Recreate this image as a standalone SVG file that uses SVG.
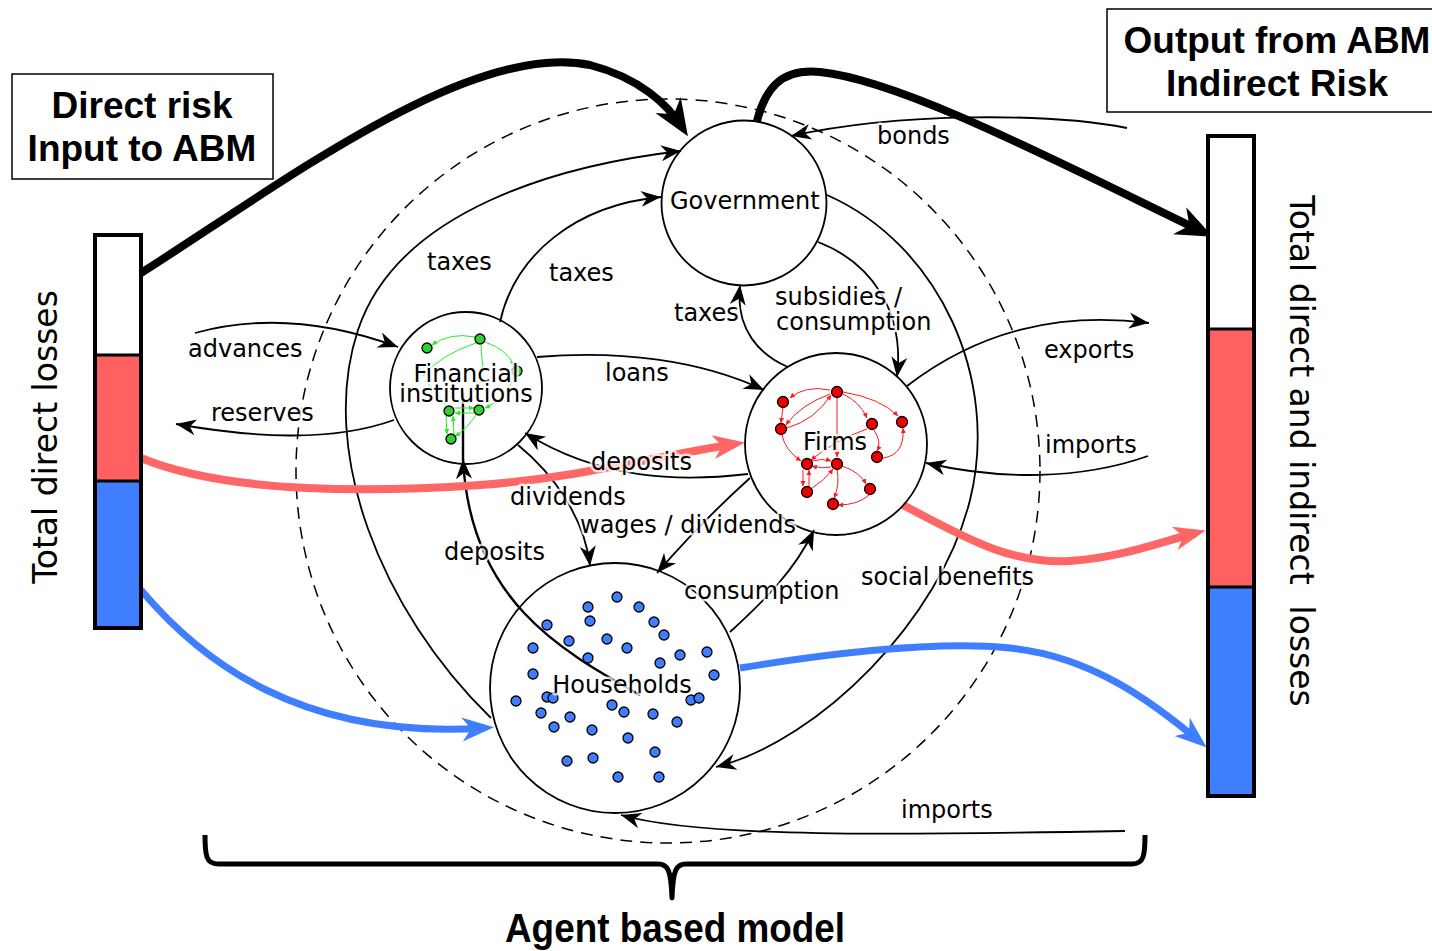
<svg xmlns="http://www.w3.org/2000/svg" width="1432" height="951" viewBox="0 0 1432 951">
<style>
.thin{fill:none;stroke:#000;stroke-width:1.8}
.node{fill:none;stroke:#000;stroke-width:1.8}
.lb{font-family:"DejaVu Sans",sans-serif;font-size:24px;fill:#000;paint-order:stroke;stroke:#fff;stroke-width:5px;stroke-opacity:0.75;stroke-linejoin:round}
.title{font-family:"Liberation Sans",Arial,sans-serif;font-size:37px;font-weight:bold;fill:#000;text-anchor:middle}
.vt{font-family:"DejaVu Sans",sans-serif;font-size:33px;fill:#000;text-anchor:middle}
.gd{fill:#2fd02f;stroke:#000;stroke-width:1.3}
.rd{fill:#ee0000;stroke:#000;stroke-width:1.3}
.bd{fill:#3f7fff;stroke:#000;stroke-width:1.3}
.ge{fill:none;stroke:#22ee22;stroke-width:1}
.re{fill:none;stroke:#ff1a1a;stroke-width:1}
</style>
<defs>
<marker id="ah" markerUnits="userSpaceOnUse" viewBox="-22 -9 24 18" refX="0" refY="0" markerWidth="24" markerHeight="18" orient="auto"><path d="M0,0 L-20,-8 L-14,0 L-20,8 Z" fill="#000"/></marker>
<marker id="ahk" markerUnits="userSpaceOnUse" viewBox="-28 -17 42 34" refX="0" refY="0" markerWidth="42" markerHeight="34" orient="auto"><path d="M11,0 L-26,-15 L-15,0 L-26,15 Z" fill="#000"/></marker>
<marker id="ahr" markerUnits="userSpaceOnUse" viewBox="-26 -16 40 32" refX="0" refY="0" markerWidth="40" markerHeight="32" orient="auto"><path d="M10,0 L-22,-12 L-13,0 L-22,12 Z" fill="#ff6666"/></marker>
<marker id="ahb" markerUnits="userSpaceOnUse" viewBox="-26 -16 40 32" refX="0" refY="0" markerWidth="40" markerHeight="32" orient="auto"><path d="M10,0 L-22,-12 L-13,0 L-22,12 Z" fill="#3f7fff"/></marker>
<marker id="sg" markerUnits="userSpaceOnUse" viewBox="-6 -3 7 6" refX="0" refY="0" markerWidth="7" markerHeight="6" orient="auto"><path d="M0,0 L-5,-2.5 L-5,2.5 Z" fill="#22ee22"/></marker>
<marker id="sr" markerUnits="userSpaceOnUse" viewBox="-6 -3 7 6" refX="0" refY="0" markerWidth="7" markerHeight="6" orient="auto"><path d="M0,0 L-5,-2.5 L-5,2.5 Z" fill="#ff1a1a"/></marker>
</defs>
<rect width="1432" height="951" fill="#fff"/>

<!-- ABM boundary -->
<circle id="abm-boundary" cx="668" cy="471" r="372" fill="none" stroke="#000" stroke-width="1.5" stroke-dasharray="12,8"/>

<g id="connectors">
  <!-- thin flows -->
  <path class="thin" marker-end="url(#ah)" d="M1127,128 C1050,113 900,112 791,136"/>
  <path class="thin" marker-end="url(#ah)" d="M491,718 C380,610 318,450 358,330 C398,210 560,165 681,151"/>
  <path class="thin" marker-end="url(#ah)" d="M500,322 C515,255 575,205 661,197"/>
  <path class="thin" marker-end="url(#ah)" d="M788,367 C760,355 735,330 740,285"/>
  <path class="thin" marker-end="url(#ah)" d="M818,242 C870,262 905,310 897,377"/>
  <path class="thin" marker-end="url(#ah)" d="M827,195 C940,245 1000,380 970,500 C940,620 820,740 716,767"/>
  <path class="thin" marker-end="url(#ah)" d="M195,333 C260,315 330,322 398,347"/>
  <path class="thin" marker-end="url(#ah)" d="M394,420 C330,443 250,437 176,424"/>
  <path class="thin" marker-end="url(#ah)" d="M537,357 C620,350 700,360 764,390"/>
  <path class="thin" marker-end="url(#ah)" d="M748,474 C680,482 600,480 525,433"/>
  <path class="thin" marker-end="url(#ah)" d="M518,445 C555,475 585,520 590,566"/>
  <path class="thin" marker-end="url(#ah)" d="M750,478 C720,505 690,535 657,573"/>
  <path class="thin" marker-end="url(#ah)" d="M730,632 C765,600 795,570 814,530"/>
  <path class="thin" style="stroke-width:2.4" marker-end="url(#ah)" d="M640,695 C560,650 470,600 463,459"/>
  <path class="thin" style="stroke-width:2.4" d="M463,460 L463,393"/>
  <path class="thin" marker-end="url(#ah)" d="M907,386 C980,330 1060,312 1149,323"/>
  <path class="thin" marker-end="url(#ah)" d="M1148,456 C1080,480 1000,480 926,463"/>
  <path class="thin" marker-end="url(#ah)" d="M1125,831 C900,835 700,838 621,815"/>

  <!-- thick risk flows -->
  <path fill="none" stroke="#000" stroke-width="8" marker-end="url(#ahk)" d="M141,273 C280,185 470,40 590,65 C640,78 668,105 682,127"/>
  <path fill="none" stroke="#000" stroke-width="8" marker-end="url(#ahk)" d="M757,121 C765,90 780,68 820,72 C900,80 1050,158 1203,232"/>
  <path fill="none" stroke="#ff6666" stroke-width="8" marker-end="url(#ahr)" d="M141,458 C230,495 380,492 480,485 C580,478 660,455 735,444"/>
  <path fill="none" stroke="#ff6666" stroke-width="8" marker-end="url(#ahr)" d="M903,505 C960,535 1010,565 1070,561 C1120,558 1160,542 1196,533"/>
  <path fill="none" stroke="#3f7fff" stroke-width="7" marker-end="url(#ahb)" d="M141,590 C200,660 300,740 484,728"/>
  <path fill="none" stroke="#3f7fff" stroke-width="7" marker-end="url(#ahb)" d="M740,668 C820,655 930,640 1010,648 C1090,656 1150,700 1199,741"/>

  <!-- brace -->
  <path fill="none" stroke="#000" stroke-width="5" stroke-linejoin="round" d="M205,835 C205,855 206,864 218,864 L658,864 C668,864 671,870 672,898 C673,870 676,864 686,864 L1132,864 C1144,864 1145,855 1145,835"/>
</g>

<g id="government">
  <circle class="node" cx="744" cy="203" r="82.5"/>
  <text class="lb" x="670" y="209">Government</text>
</g>

<g id="financial-institutions">
  <circle class="node" cx="466" cy="388" r="76"/>
  <path class="ge" marker-end="url(#sg)" d="M475,337 Q450,332 432,345"/>
  <path class="ge" marker-end="url(#sg)" d="M476,343 Q440,355 423,376"/>
  <path class="ge" marker-end="url(#sg)" d="M485,342 Q508,350 514,366"/>
  <path class="ge" marker-end="url(#sg)" d="M481,345 L483,372"/>
  <path class="ge" marker-end="url(#sg)" d="M514,377 Q505,400 485,408"/>
  <path class="ge" marker-end="url(#sg)" d="M425,380 Q440,398 446,405"/>
  <path class="ge" marker-end="url(#sg)" d="M455,408 L474,408"/>
  <path class="ge" marker-end="url(#sg)" d="M474,413 L455,413"/>
  <path class="ge" marker-end="url(#sg)" d="M446,416 L447,434"/>
  <path class="ge" marker-end="url(#sg)" d="M454,434 L453,416"/>
  <path class="ge" marker-end="url(#sg)" d="M476,415 Q466,430 455,436"/>
  <circle class="gd" cx="427" cy="348" r="5"/>
  <circle class="gd" cx="480" cy="339" r="5"/>
  <circle class="gd" cx="517" cy="371" r="5"/>
  <circle class="gd" cx="449" cy="411" r="5"/>
  <circle class="gd" cx="479" cy="410" r="5"/>
  <circle class="gd" cx="451" cy="439" r="5"/>
  <text class="lb" x="466" y="382" text-anchor="middle">Financial</text>
  <text class="lb" x="466" y="402" text-anchor="middle">institutions</text>
</g>

<g id="firms">
  <circle class="node" cx="836" cy="444" r="91"/>
  <path class="re" marker-end="url(#sr)" d="M830,390 Q805,385 790,398"/>
  <path class="re" marker-end="url(#sr)" d="M830,394 Q800,405 786,425"/>
  <path class="re" marker-end="url(#sr)" d="M787,428 Q815,420 831,395"/>
  <path class="re" marker-end="url(#sr)" d="M843,394 Q860,402 867,418"/>
  <path class="re" marker-end="url(#sr)" d="M843,392 Q880,398 898,416"/>
  <path class="re" marker-end="url(#sr)" d="M837,398 L837,457"/>
  <path class="re" marker-end="url(#sr)" d="M783,407 L781,423"/>
  <path class="re" marker-end="url(#sr)" d="M874,430 Q882,442 877,451"/>
  <path class="re" marker-end="url(#sr)" d="M883,458 Q905,455 903,428"/>
  <path class="re" marker-end="url(#sr)" d="M867,429 Q835,440 811,460"/>
  <path class="re" marker-end="url(#sr)" d="M782,435 Q785,450 801,461"/>
  <path class="re" marker-end="url(#sr)" d="M812,461 Q822,458 831,461"/>
  <path class="re" marker-end="url(#sr)" d="M831,467 Q822,469 812,466"/>
  <path class="re" marker-end="url(#sr)" d="M803,470 L803,486"/>
  <path class="re" marker-end="url(#sr)" d="M809,486 L809,470"/>
  <path class="re" marker-end="url(#sr)" d="M811,489 Q825,480 833,469"/>
  <path class="re" marker-end="url(#sr)" d="M842,466 Q860,472 866,484"/>
  <path class="re" marker-end="url(#sr)" d="M837,469 Q840,485 834,498"/>
  <path class="re" marker-end="url(#sr)" d="M869,495 Q858,505 838,505"/>
  <circle class="rd" cx="837" cy="392" r="5.5"/>
  <circle class="rd" cx="783" cy="402" r="5.5"/>
  <circle class="rd" cx="781" cy="429" r="5.5"/>
  <circle class="rd" cx="872" cy="424" r="5.5"/>
  <circle class="rd" cx="902" cy="422" r="5.5"/>
  <circle class="rd" cx="877" cy="457" r="5.5"/>
  <circle class="rd" cx="807" cy="464" r="5.5"/>
  <circle class="rd" cx="837" cy="464" r="5.5"/>
  <circle class="rd" cx="807" cy="492" r="5.5"/>
  <circle class="rd" cx="870" cy="489" r="5.5"/>
  <circle class="rd" cx="833" cy="504" r="5.5"/>
  <text class="lb" x="835" y="450" text-anchor="middle">Firms</text>
</g>

<g id="households">
  <circle class="node" cx="615" cy="688" r="125"/>
  <circle class="bd" cx="617" cy="597" r="5"/>
  <circle class="bd" cx="588" cy="607" r="5"/>
  <circle class="bd" cx="639" cy="607" r="5"/>
  <circle class="bd" cx="590" cy="621" r="5"/>
  <circle class="bd" cx="547" cy="625" r="5"/>
  <circle class="bd" cx="654" cy="622" r="5"/>
  <circle class="bd" cx="664" cy="635" r="5"/>
  <circle class="bd" cx="569" cy="641" r="5"/>
  <circle class="bd" cx="607" cy="639" r="5"/>
  <circle class="bd" cx="627" cy="648" r="5"/>
  <circle class="bd" cx="533" cy="648" r="5"/>
  <circle class="bd" cx="588" cy="658" r="5"/>
  <circle class="bd" cx="660" cy="663" r="5"/>
  <circle class="bd" cx="680" cy="655" r="5"/>
  <circle class="bd" cx="707" cy="652" r="5"/>
  <circle class="bd" cx="714" cy="675" r="5"/>
  <circle class="bd" cx="533" cy="674" r="5"/>
  <circle class="bd" cx="516" cy="701" r="5"/>
  <circle class="bd" cx="547" cy="697" r="5"/>
  <circle class="bd" cx="553" cy="698" r="5"/>
  <circle class="bd" cx="691" cy="700" r="5"/>
  <circle class="bd" cx="699" cy="698" r="5"/>
  <circle class="bd" cx="541" cy="713" r="5"/>
  <circle class="bd" cx="570" cy="717" r="5"/>
  <circle class="bd" cx="612" cy="705" r="5"/>
  <circle class="bd" cx="624" cy="712" r="5"/>
  <circle class="bd" cx="653" cy="714" r="5"/>
  <circle class="bd" cx="677" cy="722" r="5"/>
  <circle class="bd" cx="554" cy="727" r="5"/>
  <circle class="bd" cx="592" cy="730" r="5"/>
  <circle class="bd" cx="628" cy="738" r="5"/>
  <circle class="bd" cx="655" cy="752" r="5"/>
  <circle class="bd" cx="567" cy="761" r="5"/>
  <circle class="bd" cx="593" cy="758" r="5"/>
  <circle class="bd" cx="618" cy="777" r="5"/>
  <circle class="bd" cx="659" cy="777" r="5"/>
  <text class="lb" x="622" y="693" text-anchor="middle">Households</text>
</g>

<g id="flow-labels">
  <text class="lb" x="877" y="144">bonds</text>
  <text class="lb" x="427" y="270">taxes</text>
  <text class="lb" x="549" y="281">taxes</text>
  <text class="lb" x="674" y="321">taxes</text>
  <text class="lb" x="775" y="305">subsidies /</text>
  <text class="lb" x="776" y="330">consumption</text>
  <text class="lb" x="188" y="357">advances</text>
  <text class="lb" x="211" y="421">reserves</text>
  <text class="lb" x="605" y="381">loans</text>
  <text class="lb" x="591" y="470">deposits</text>
  <text class="lb" x="510" y="505">dividends</text>
  <text class="lb" x="580" y="533">wages / dividends</text>
  <text class="lb" x="444" y="560">deposits</text>
  <text class="lb" x="684" y="599">consumption</text>
  <text class="lb" x="861" y="585">social benefits</text>
  <text class="lb" x="1044" y="358">exports</text>
  <text class="lb" x="1045" y="453">imports</text>
  <text class="lb" x="901" y="818">imports</text>
</g>

<g id="direct-risk-box">
  <rect x="12" y="74" width="261" height="105" fill="#fff" stroke="#000" stroke-width="1.5"/>
  <text class="title" x="142" y="118">Direct risk</text>
  <text class="title" x="142" y="161">Input to ABM</text>
</g>

<g id="output-box">
  <rect x="1107" y="9" width="330" height="103" fill="#fff" stroke="#000" stroke-width="1.5"/>
  <text class="title" x="1277" y="53">Output from ABM</text>
  <text class="title" x="1277" y="96">Indirect Risk</text>
</g>

<g id="direct-losses-bar">
  <rect x="95" y="235" width="46" height="120" fill="#fff"/>
  <rect x="95" y="355" width="46" height="126" fill="#ff6060"/>
  <rect x="95" y="481" width="46" height="147" fill="#3f7fff"/>
  <path d="M95,355 H141 M95,481 H141" stroke="#000" stroke-width="3"/>
  <rect x="95" y="235" width="46" height="393" fill="none" stroke="#000" stroke-width="4"/>
  <text class="vt" transform="translate(57,437) rotate(-90)">Total direct losses</text>
</g>

<g id="indirect-losses-bar">
  <rect x="1208" y="136" width="46" height="193" fill="#fff"/>
  <rect x="1208" y="329" width="46" height="258" fill="#ff6060"/>
  <rect x="1208" y="587" width="46" height="209" fill="#3f7fff"/>
  <path d="M1208,329 H1254 M1208,587 H1254" stroke="#000" stroke-width="3"/>
  <rect x="1208" y="136" width="46" height="660" fill="none" stroke="#000" stroke-width="4"/>
  <text class="vt" transform="translate(1290,451) rotate(90)" xml:space="preserve">Total direct and indirect  losses</text>
</g>

<text x="675" y="942" font-family="Liberation Sans, Arial, sans-serif" font-size="40" font-weight="bold" text-anchor="middle" textLength="340" lengthAdjust="spacingAndGlyphs">Agent based model</text>
</svg>
